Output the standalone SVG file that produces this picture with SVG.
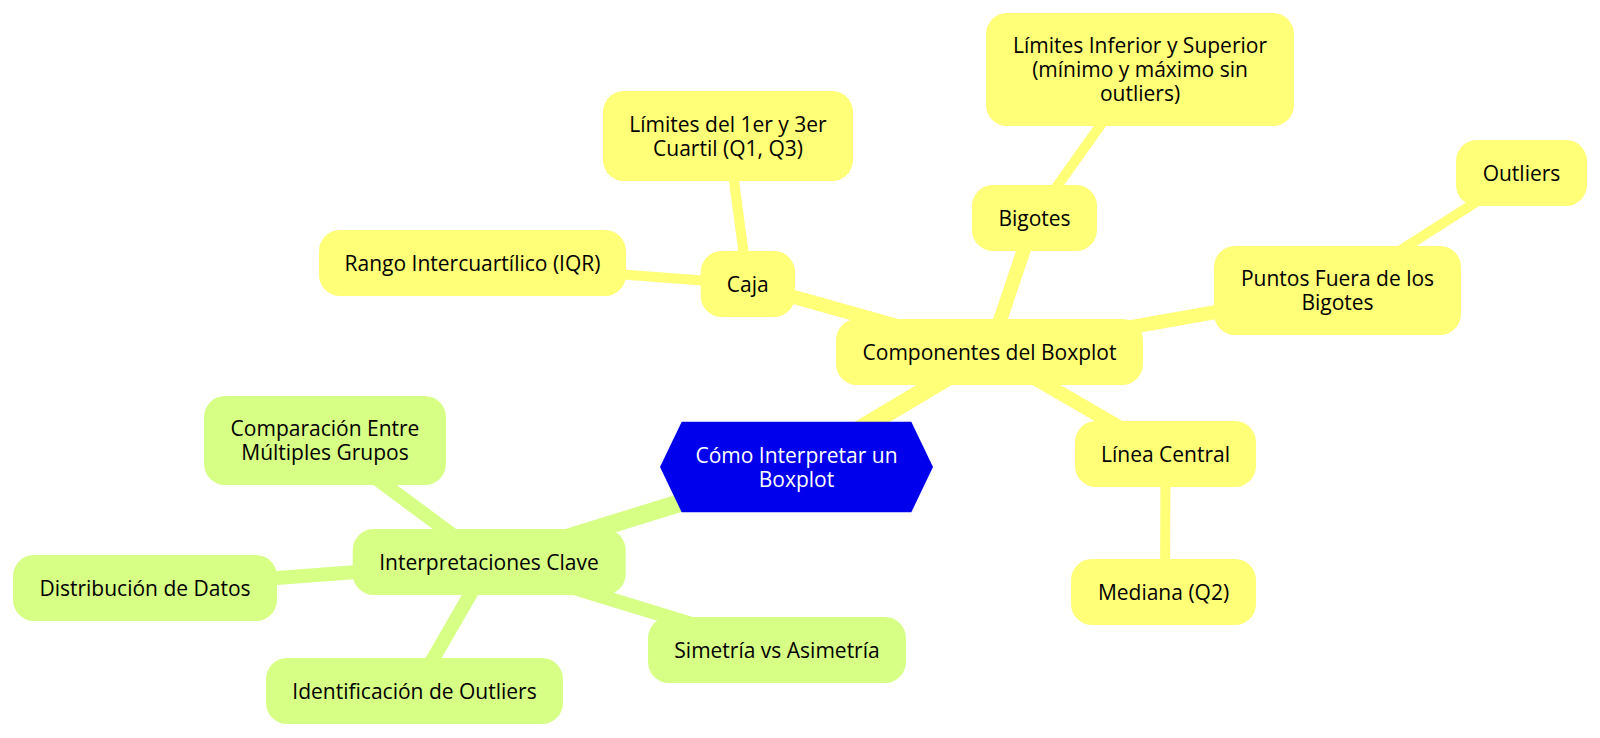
<svg xmlns="http://www.w3.org/2000/svg" width="1600" height="738" viewBox="0 0 1600 738">
<style>
  .bg { fill: #ffffff; }
  .e { fill: none; stroke-linecap: butt; }
  .y { stroke: #ffff78; }
  .g { stroke: #d7ff86; }
  .d0 { stroke-width: 18; }
  .d1 { stroke-width: 14; }
  .d2 { stroke-width: 10; }
  .ny { fill: #ffff78; }
  .ng { fill: #d7ff86; }
  .root { fill: #0000ec; }
  text { font-family: "Open Sans", "Noto Sans", "DejaVu Sans", sans-serif; font-size: 21px; text-anchor: middle; fill: #000000; }
  .rt { fill: #ffffff; }
</style>
<rect class="bg" x="0" y="0" width="1600" height="738"/>
<g id="connectors">
  <line class="e y d0" x1="796.5" y1="467" x2="989.5" y2="352"/>
  <line class="e g d0" x1="796.5" y1="467" x2="489" y2="562"/>
  <line class="e y d1" x1="989.5" y1="352" x2="747.8" y2="284"/>
  <line class="e y d1" x1="989.5" y1="352" x2="1034.5" y2="218"/>
  <line class="e y d1" x1="989.5" y1="352" x2="1337.5" y2="290.5"/>
  <line class="e y d1" x1="989.5" y1="352" x2="1165.5" y2="454"/>
  <line class="e y d2" x1="747.8" y1="284" x2="472.5" y2="263"/>
  <line class="e y d2" x1="747.8" y1="284" x2="728" y2="136"/>
  <line class="e y d2" x1="1034.5" y1="218" x2="1140" y2="69.5"/>
  <line class="e y d2" x1="1337.5" y1="290.5" x2="1521.5" y2="173"/>
  <line class="e y d2" x1="1165.5" y1="454" x2="1165" y2="592"/>
  <line class="e g d1" x1="489" y1="562" x2="325" y2="440.5"/>
  <line class="e g d1" x1="489" y1="562" x2="145" y2="588"/>
  <line class="e g d1" x1="489" y1="562" x2="414.5" y2="691"/>
  <line class="e g d1" x1="489" y1="562" x2="777" y2="650"/>
</g>
<g id="n-root">
  <polygon class="root" points="660,467 681.7,421.7 911.3,421.7 933,467 911.3,512.3 681.7,512.3"/>
  <text class="rt" x="796.5" y="462.5">Cómo Interpretar un</text>
  <text class="rt" x="796.5" y="486.5">Boxplot</text>
</g>
<g id="n-componentes">
  <rect class="ny" x="836" y="319" width="307" height="66" rx="21"/>
  <text x="989.5" y="359.5">Componentes del Boxplot</text>
</g>
<g id="n-caja">
  <rect class="ny" x="700.7" y="251" width="94.3" height="66" rx="21"/>
  <text x="747.8" y="291.5">Caja</text>
</g>
<g id="n-rango">
  <rect class="ny" x="319" y="230" width="307" height="66" rx="21"/>
  <text x="472.5" y="270.5">Rango Intercuartílico (IQR)</text>
</g>
<g id="n-limites-q">
  <rect class="ny" x="603" y="91" width="250" height="90" rx="21"/>
  <text x="728" y="131.5">Límites del 1er y 3er</text>
  <text x="728" y="155.5">Cuartil (Q1, Q3)</text>
</g>
<g id="n-bigotes">
  <rect class="ny" x="972" y="185" width="125" height="66" rx="21"/>
  <text x="1034.5" y="225.5">Bigotes</text>
</g>
<g id="n-limites-is">
  <rect class="ny" x="986" y="13" width="308" height="113" rx="21"/>
  <text x="1140" y="53">Límites Inferior y Superior</text>
  <text x="1140" y="77">(mínimo y máximo sin</text>
  <text x="1140" y="101">outliers)</text>
</g>
<g id="n-puntos">
  <rect class="ny" x="1214" y="246" width="247" height="89" rx="21"/>
  <text x="1337.5" y="286">Puntos Fuera de los</text>
  <text x="1337.5" y="310">Bigotes</text>
</g>
<g id="n-outliers">
  <rect class="ny" x="1456" y="140" width="131" height="66" rx="21"/>
  <text x="1521.5" y="180.5">Outliers</text>
</g>
<g id="n-linea">
  <rect class="ny" x="1075" y="421" width="181" height="66" rx="21"/>
  <text x="1165.5" y="461.5">Línea Central</text>
</g>
<g id="n-mediana">
  <rect class="ny" x="1071" y="559" width="185" height="66" rx="21"/>
  <text x="1163.5" y="599.5">Mediana (Q2)</text>
</g>
<g id="n-interpretaciones">
  <rect class="ng" x="352.7" y="529" width="273" height="66" rx="21"/>
  <text x="489" y="569.5">Interpretaciones Clave</text>
</g>
<g id="n-comparacion">
  <rect class="ng" x="204" y="396" width="242" height="89" rx="21"/>
  <text x="325" y="436">Comparación Entre</text>
  <text x="325" y="460">Múltiples Grupos</text>
</g>
<g id="n-distribucion">
  <rect class="ng" x="13" y="555" width="264" height="66" rx="21"/>
  <text x="145" y="595.5">Distribución de Datos</text>
</g>
<g id="n-identificacion">
  <rect class="ng" x="266" y="658" width="297" height="66" rx="21"/>
  <text x="414.5" y="698.5">Identificación de Outliers</text>
</g>
<g id="n-simetria">
  <rect class="ng" x="648" y="617" width="258" height="66" rx="21"/>
  <text x="777" y="657.5">Simetría vs Asimetría</text>
</g>
</svg>
